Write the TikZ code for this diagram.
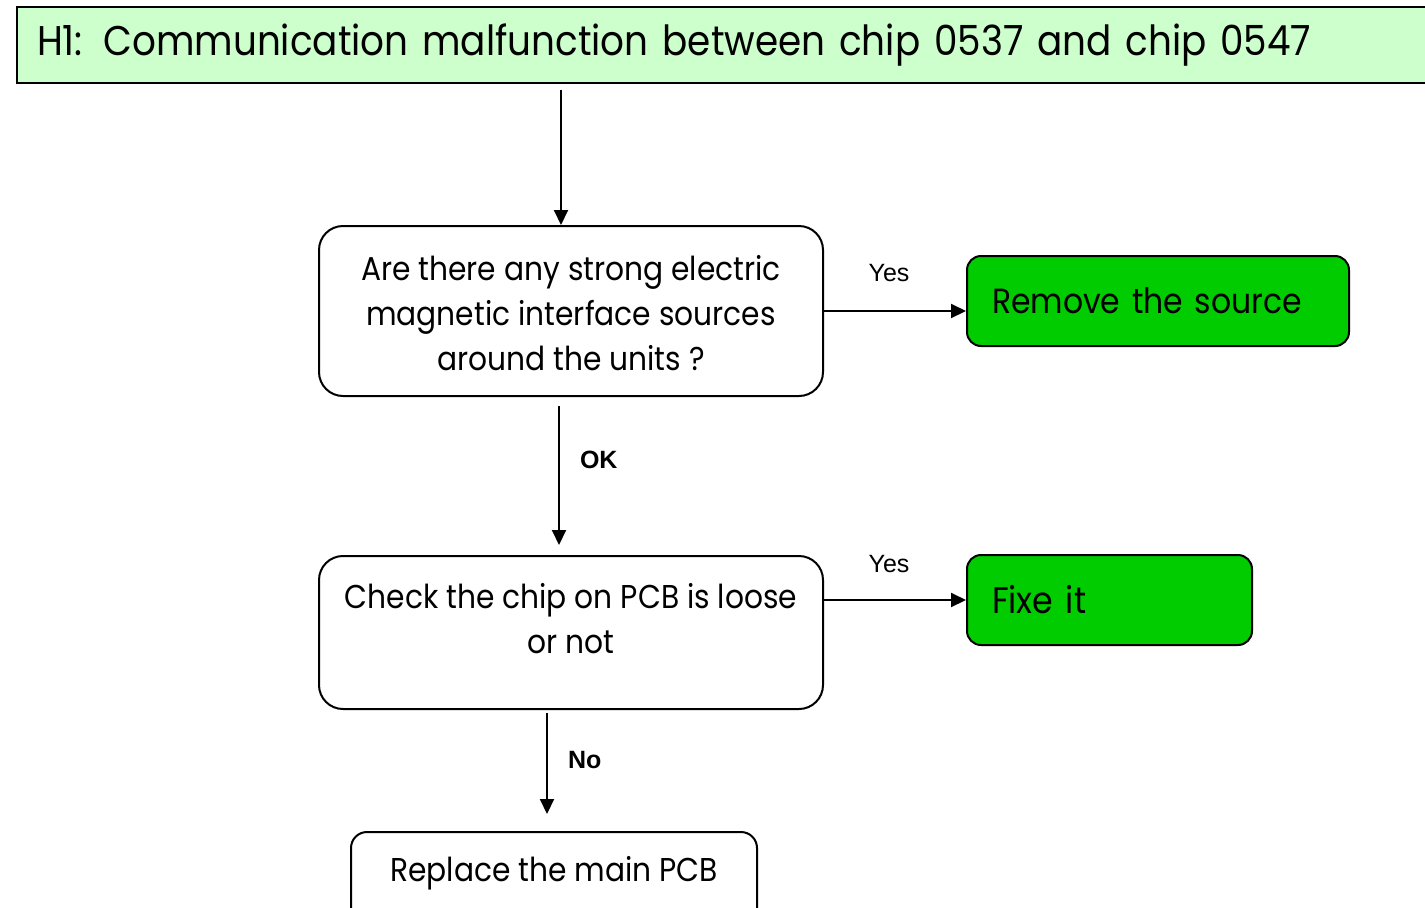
\documentclass[tikz,border=0pt]{standalone}
\usepackage{fontspec}
\setmainfont{Poppins}[FakeStretch=0.9]
\newfontfamily\tagfont{Liberation Sans}
\usetikzlibrary{arrows.meta}
\definecolor{titlegreen}{HTML}{CCFFCC}
\definecolor{fixgreen}{HTML}{00CC00}
\begin{document}
\begin{tikzpicture}[
  x=1pt,y=-1pt,
  >={Triangle[length=15pt,width=14pt]},
  askbox/.style={draw,line width=2pt,rounded corners=24pt,align=center,minimum width=504pt,font=\fontsize{33}{45}\selectfont},
  fixbox/.style={draw,line width=2pt,rounded corners=14pt,fill=fixgreen,align=left,inner xsep=25pt,minimum height=90pt,font=\fontsize{35}{42}\selectfont},
  route/.style={->,line width=2pt},
  tag/.style={font=\tagfont\fontsize{25}{28}\selectfont,inner sep=0pt}
]
  \useasboundingbox (0,0) rectangle (1425,908);

  \node[draw,line width=2pt,fill=titlegreen,anchor=north west,minimum width=1440pt,minimum height=76pt,
        inner xsep=20pt,text width=1400pt,align=left,font=\fontsize{41.5}{48}\selectfont] (title) at (16,6)
        {H1: Communication malfunction between chip 0537 and chip 0547};
  \coordinate (top) at (561,90);

  \node[askbox,minimum height=170pt,text height=126pt,text depth=8pt] (ask) at (571,311)
        {Are there any strong electric\\magnetic interface sources\\around the units ?};
  \node[fixbox,text width=332pt] (rm) at (1158,301) {Remove the source};

  \node[askbox,minimum height=153pt,text height=49pt,text depth=8pt] (chk) at (571,632.5)
        {Check the chip on PCB is loose\\or not};
  \node[fixbox,text width=235pt,font=\fontsize{37}{42}\selectfont] (fix) at (1109.5,600) {Fixe it};

  \node[askbox,minimum width=406pt,minimum height=100pt,rounded corners=16pt,anchor=north,
        text height=20pt,text depth=22pt] (pcb) at (554,831)
        {Replace the main PCB};

  \draw[route] (top) -- (top |- ask.north);
  \draw[route] (ask.east) -- node[tag,yshift=38pt,xshift=-6pt] {Yes} (ask.east -| rm.west);
  \draw[route,shorten <=9pt,shorten >=10pt] (ask.south -| 559,0) -- node[tag,pos=0.4,anchor=west,xshift=20pt] {\bfseries OK} (chk.north -| 559,0);
  \draw[route] (chk.east |- fix.west) -- node[tag,yshift=36pt,xshift=-6pt] {Yes} (fix.west);
  \draw[route,shorten <=3pt,shorten >=17pt] (chk.south -| 547,0) -- node[tag,pos=0.41,anchor=west,xshift=20pt] {\bfseries No} (pcb.north -| 547,0);
\end{tikzpicture}
\end{document}
